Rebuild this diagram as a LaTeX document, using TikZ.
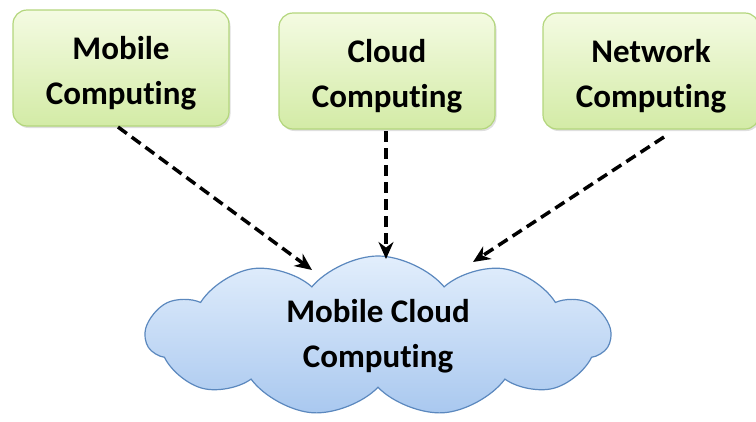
\documentclass[tikz,border=0pt]{standalone}
\usepackage{fontspec}
\setmainfont{Carlito}[Ligatures=NoCommon]
\usetikzlibrary{shapes.symbols,arrows.meta,shadows}
\definecolor{boxtop}{HTML}{F4FBE2}
\definecolor{boxbot}{HTML}{D3EBA6}
\definecolor{boxline}{HTML}{B3D67C}
\definecolor{cloudtop}{HTML}{E2EEFC}
\definecolor{cloudbot}{HTML}{A9C8EF}
\definecolor{cloudline}{HTML}{5B88BE}
\newcommand{\pushdown}{\rule{0pt}{33pt}}
\tikzset{
  topic/.style={draw=boxline, line width=1.2pt, rounded corners=14pt,
    top color=boxtop, bottom color=boxbot, minimum width=216pt, minimum height=116pt,
    align=center, font=\bfseries\fontsize{33}{45}\selectfont,
    drop shadow={shadow xshift=1.5pt, shadow yshift=-2pt, opacity=0.25}},
  cloudnode/.style={cloud, cloud puffs=11, cloud puff arc=100, aspect=2.8,
    draw=cloudline, line width=1.2pt, top color=cloudtop, bottom color=cloudbot,
    minimum width=464pt, minimum height=160pt, inner sep=0pt,
    align=center, font=\bfseries\fontsize{33}{45}\selectfont},
  link/.style={-{Stealth[length=17pt,width=15pt]}, dash pattern=on 11pt off 6pt, line width=3.5pt}
}
\begin{document}
\begin{tikzpicture}[x=1pt,y=-1pt]
\useasboundingbox (0,0) rectangle (756,421);
\node[topic] (mc) at (121,68) {\pushdown Mobile\\Computing};
\node[topic] (cc) at (387,71) {\pushdown Cloud\\Computing};
\node[topic] (nc) at (651,71) {\pushdown Network\\Computing};
\node[cloudnode] (mcc) at (378,336) {Mobile Cloud\\Computing};
\coordinate (a1) at (312,270);
\coordinate (a2) at (386,259);
\coordinate (a3) at (473,262);
\coordinate (s1) at (118,127);
\coordinate (s2) at (386,131);
\coordinate (s3) at (664,137);
\draw[link] (s1) -- (a1);
\draw[link] (s2) -- (a2);
\draw[link] (s3) -- (a3);
\end{tikzpicture}
\end{document}
